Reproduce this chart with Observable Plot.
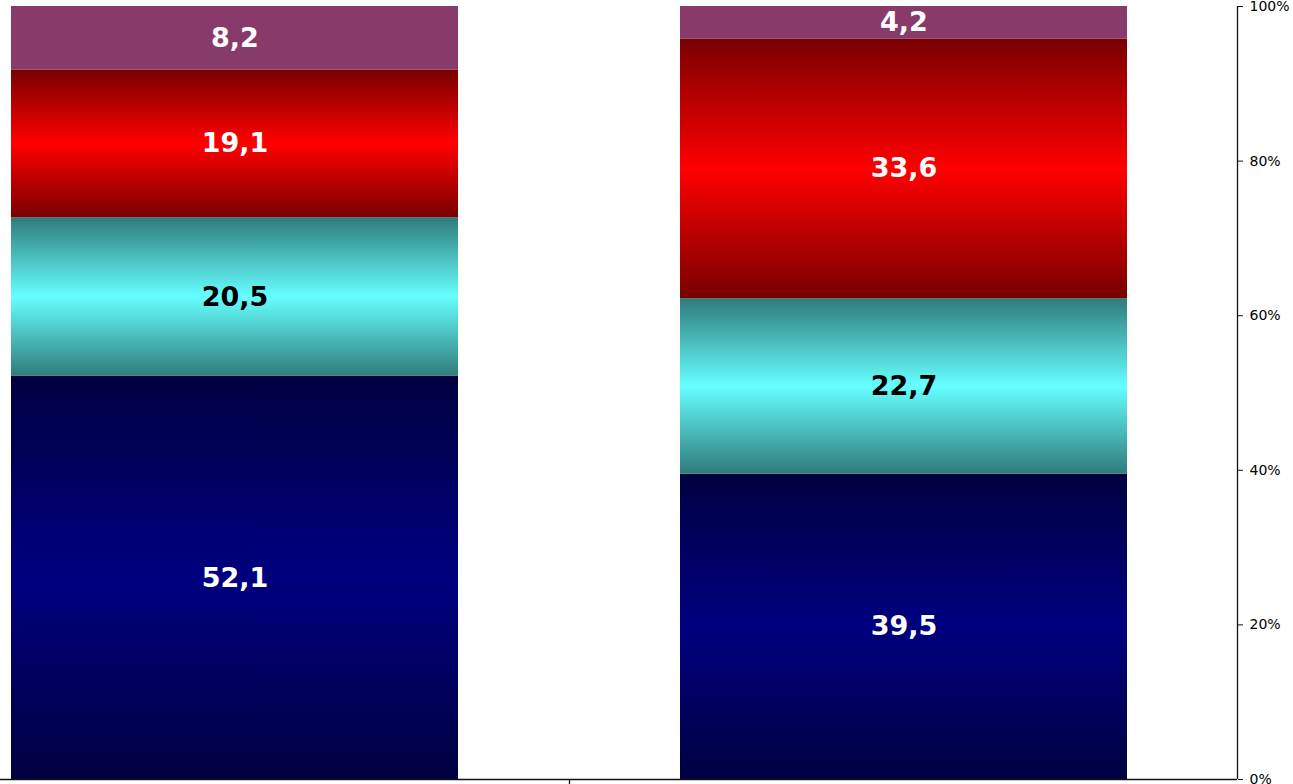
<!DOCTYPE html>
<html>
<head>
<meta charset="utf-8">
<script src="https://cdn.jsdelivr.net/npm/d3@7"></script>
<script src="https://cdn.jsdelivr.net/npm/@observablehq/plot@0.6"></script>
<style>
  html, body { margin: 0; padding: 0; background: #fff; }
  #chart svg { display: block; }
  #chart svg [aria-label="y-axis tick label"] { font-size: 14px !important; }
</style>
</head>
<body>
<div id="chart"></div>
<script>
// Data
const categories = ["Groupe 1", "Groupe 2"];
const series = ["S1", "S2", "S3", "S4"];
const values1 = [52.1, 20.5, 19.1, 8.2];
const values2 = [39.5, 22.7, 33.6, 4.2];
const yTicks = [0, 0.2, 0.4, 0.6, 0.8, 1];

// Gradient styles per series (dark edge, bright middle)
const gradients = [
  {id: "g-S1", edge: "#000040", mid: "#000080"},
  {id: "g-S2", edge: "#2f7b7b", mid: "#66ffff"},
  {id: "g-S3", edge: "#780000", mid: "#ff0000"},
  {id: "g-S4", edge: "#883a6b", mid: "#883a6b"}
];
const labelColor = {S1: "white", S2: "black", S3: "white", S4: "white"};

const rows = [];
categories.forEach((c, i) => {
  const vals = i === 0 ? values1 : values2;
  series.forEach((s, j) => rows.push({cat: c, series: s, value: vals[j]}));
});

const W = 1293, H = 784;
const mL = 0, mR = 56, mT = 6, mB = 5;
const rangeX = [-100, 1238];
const step = (rangeX[1] - rangeX[0]) / categories.length;

const stackOpts = {x: "cat", y: "value", z: "series", order: series, offset: "normalize"};
const fmt = v => v.toFixed(1).replace(".", ",");
const labelFont = {fontSize: 27, fontWeight: "bold", fontFamily: "DejaVu Sans, Verdana, sans-serif"};

const chart = Plot.plot({
  width: W,
  height: H,
  marginLeft: mL,
  marginRight: mR,
  marginTop: mT,
  marginBottom: mB,
  style: {fontFamily: "DejaVu Sans, Verdana, sans-serif", fontSize: "14px", background: "white", overflow: "visible"},
  x: {domain: categories, range: rangeX, paddingInner: 0.332, paddingOuter: 0.166, axis: null},
  y: {domain: [0, 1], axis: null},
  color: {domain: series, range: gradients.map(g => `url(#${g.id})`)},
  marks: [
    Plot.barY(rows, Plot.stackY({...stackOpts, fill: "series"})),
    Plot.text(rows, Plot.stackY({
      ...stackOpts, ...labelFont, fill: "white",
      text: d => labelColor[d.series] === "white" ? fmt(d.value) : ""
    })),
    Plot.text(rows, Plot.stackY({
      ...stackOpts, ...labelFont, fill: "black",
      text: d => labelColor[d.series] === "black" ? fmt(d.value) : ""
    })),
    // x axis baseline
    Plot.ruleY([0], {stroke: "#111", strokeWidth: 1.3}),
    // y axis line on the right (at end of last band)
    Plot.ruleX([categories[categories.length - 1]], {dx: step / 2 - 1, stroke: "#111", strokeWidth: 1.3}),
    // category separator tick
    Plot.axisX([categories[1]], {tickSize: 5, tickFormat: null, dx: -step / 2, stroke: "#111", strokeWidth: 1.3, label: null}),
    Plot.axisY({anchor: "right", ticks: yTicks, tickFormat: d => Math.round(d * 100) + "%",
      tickSize: 5, tickPadding: 7, fontSize: 14, label: null, stroke: "#111"})
  ]
});

// gradient definitions
const ns = "http://www.w3.org/2000/svg";
const defs = document.createElementNS(ns, "defs");
gradients.forEach(g => {
  const lg = document.createElementNS(ns, "linearGradient");
  lg.setAttribute("id", g.id);
  lg.setAttribute("x1", "0"); lg.setAttribute("y1", "0");
  lg.setAttribute("x2", "0"); lg.setAttribute("y2", "1");
  [[0, g.edge], [0.5, g.mid], [1, g.edge]].forEach(([o, c]) => {
    const st = document.createElementNS(ns, "stop");
    st.setAttribute("offset", o);
    st.setAttribute("stop-color", c);
    lg.appendChild(st);
  });
  defs.appendChild(lg);
});
chart.insertBefore(defs, chart.firstChild);

document.getElementById("chart").appendChild(chart);
</script>
</body>
</html>
